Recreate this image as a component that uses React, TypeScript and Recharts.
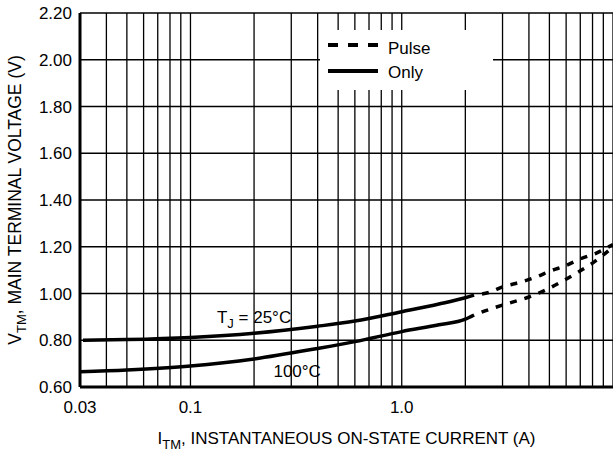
import React from 'react'
import {
  LineChart,
  Line,
  XAxis,
  YAxis,
  CartesianGrid,
  Legend,
  Label,
  ReferenceDot
} from 'recharts'

// log-scale grid positions along the current axis (A)
const xGridTicks = [
  0.03, 0.04, 0.05, 0.06, 0.07, 0.08, 0.09,
  0.1, 0.2, 0.3, 0.4, 0.5, 0.6, 0.7, 0.8, 0.9,
  1, 2, 3, 4, 5, 6, 7, 8, 9, 10
]
const xTickLabels: Record<string, string> = { '0.03': '0.03', '0.1': '0.1', '1': '1.0' }
const yTicks = [0.6, 0.8, 1.0, 1.2, 1.4, 1.6, 1.8, 2.0, 2.2]

// TJ = 25°C, DC region
const current25 = [0.031, 0.05, 0.1, 0.2, 0.4, 0.6, 1.0, 1.5, 2.0, 2.2]
const vtm25 = [0.8, 0.803, 0.812, 0.83, 0.86, 0.882, 0.922, 0.955, 0.982, 0.993]
// TJ = 25°C, pulse only
const current25Pulse = [2.2, 2.6, 3, 3.7, 4.4, 5, 6, 7, 8.3, 10]
const vtm25Pulse = [0.993, 1.005, 1.028, 1.05, 1.073, 1.095, 1.12, 1.148, 1.172, 1.21]

// TJ = 100°C, DC region
const current100 = [0.03, 0.05, 0.1, 0.2, 0.4, 0.6, 1.0, 1.5, 2.0, 2.2]
const vtm100 = [0.665, 0.673, 0.69, 0.72, 0.765, 0.794, 0.837, 0.866, 0.89, 0.908]
// TJ = 100°C, pulse only
const current100Pulse = [2.2, 2.6, 3.2, 4, 4.8, 5.7, 6.8, 8, 9, 10]
const vtm100Pulse = [0.908, 0.932, 0.958, 0.985, 1.015, 1.05, 1.09, 1.13, 1.165, 1.2]

const toPoints = (xs: number[], ys: number[]) => xs.map((i, k) => ({ i, v: ys[k] }))

const FONT = '"Liberation Sans", Arial, Helvetica, sans-serif'

function PulseLegend() {
  return (
    <svg width={173} height={60} style={{ display: 'block' }}>
      <line x1={8} x2={58} y1={15} y2={15} stroke="#000" strokeWidth={4} strokeDasharray="10 10" />
      <text x={68} y={24} fontFamily={FONT} fontSize={17} fill="#000">Pulse</text>
      <line x1={8} x2={58} y1={41} y2={41} stroke="#000" strokeWidth={4} />
      <text x={68} y={48} fontFamily={FONT} fontSize={17} fill="#000">Only</text>
    </svg>
  )
}

export default function App() {
  const lineProps = {
    dataKey: 'v',
    stroke: '#000',
    strokeWidth: 3.5,
    dot: false,
    activeDot: false,
    type: 'monotone' as const,
    isAnimationActive: false,
    legendType: 'none' as const
  }

  return (
    <div style={{ position: 'absolute', left: 0, top: 0, width: 613, height: 455, background: '#fff' }}>
      <LineChart width={613} height={455} margin={{ top: 13, right: 0, bottom: 0, left: 0 }}>
        <CartesianGrid stroke="#000" strokeWidth={1.3} />
        <XAxis
          dataKey="i"
          type="number"
          scale="log"
          domain={[0.03, 10]}
          allowDataOverflow
          ticks={xGridTicks}
          interval={0}
          tickFormatter={(v: number) => xTickLabels[String(v)] ?? ''}
          tickLine={false}
          tickMargin={8}
          axisLine={{ stroke: '#000', strokeWidth: 3 }}
          tick={{ fontSize: 17, fill: '#000', fontFamily: FONT }}
          height={68}
        >
          <Label
            content={(props: any) => {
              const vb = props.viewBox
              return (
                <text x={vb.x + vb.width / 2} y={vb.y + 57} textAnchor="middle" fontFamily={FONT} fontSize={17} fill="#000">
                  <tspan>I</tspan>
                  <tspan fontSize={13} dy={5}>TM</tspan>
                  <tspan dy={-5}>, INSTANTANEOUS ON-STATE CURRENT (A)</tspan>
                </text>
              )
            }}
          />
        </XAxis>
        <YAxis
          type="number"
          domain={[0.6, 2.2]}
          ticks={yTicks}
          interval={0}
          tickFormatter={(v: number) => v.toFixed(2)}
          tickLine={false}
          axisLine={{ stroke: '#000', strokeWidth: 3 }}
          tick={{ fontSize: 17, fill: '#000', fontFamily: FONT }}
          width={80}
        >
          <Label
            content={(props: any) => {
              const vb = props.viewBox
              const cx = 21
              const cy = vb.y + vb.height / 2
              return (
                <text
                  x={cx}
                  y={cy}
                  transform={`rotate(-90, ${cx}, ${cy})`}
                  textAnchor="middle"
                  fontFamily={FONT}
                  fontSize={17.5}
                  fill="#000"
                >
                  <tspan>V</tspan>
                  <tspan fontSize={13} dy={5}>TM</tspan>
                  <tspan dy={-5}>, MAIN TERMINAL VOLTAGE (V)</tspan>
                </text>
              )
            }}
          />
        </YAxis>

        <Line {...lineProps} data={toPoints(current25, vtm25)} />
        <Line {...lineProps} data={toPoints(current25Pulse, vtm25Pulse)} strokeDasharray="7 8" strokeDashoffset={7} />
        <Line {...lineProps} data={toPoints(current100, vtm100)} />
        <Line {...lineProps} data={toPoints(current100Pulse, vtm100Pulse)} strokeDasharray="7 8" strokeDashoffset={7} />

        <ReferenceDot
          x={0.2}
          y={0.874}
          r={0}
          shape={(p: any) => (
            <text x={p.cx} y={p.cy} textAnchor="middle" fontFamily={FONT} fontSize={17} fill="#000">
              <tspan>T</tspan>
              <tspan fontSize={13} dy={5}>J</tspan>
              <tspan dy={-5}> = 25°C</tspan>
            </text>
          )}
        />
        <ReferenceDot
          x={0.32}
          y={0.643}
          r={0}
          shape={(p: any) => (
            <text x={p.cx} y={p.cy} textAnchor="middle" fontFamily={FONT} fontSize={17} fill="#000">
              100°C
            </text>
          )}
        />

        <Legend
          layout="horizontal"
          verticalAlign="middle"
          align="center"
          content={() => <PulseLegend />}
          wrapperStyle={{ left: 320, top: 30, width: 173, height: 60, background: '#fff' }}
        />
      </LineChart>
    </div>
  )
}
